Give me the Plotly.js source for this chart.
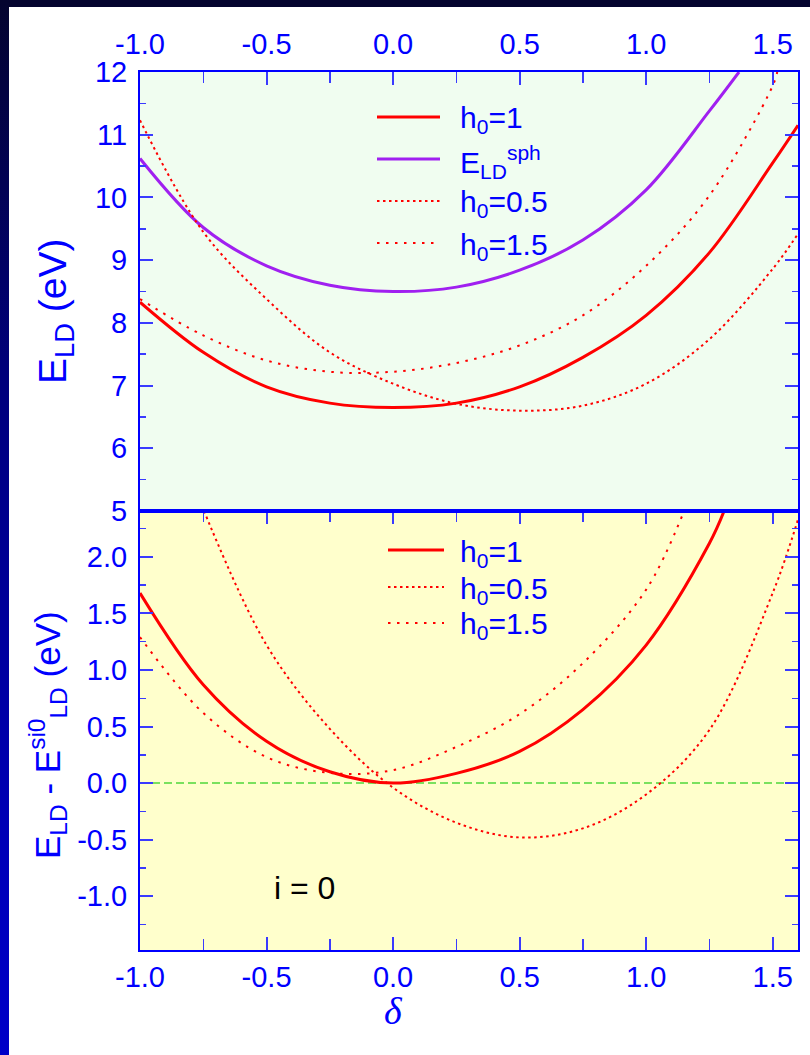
<!DOCTYPE html>
<html>
<head>
<meta charset="utf-8">
<script src="https://cdn.plot.ly/plotly-3.0.1.min.js"></script>
<style>
html,body{margin:0;padding:0;background:#fff;}
#wrap{position:relative;width:810px;height:1055px;overflow:hidden;background:#fff;}
#topband{position:absolute;left:0;top:0;width:810px;height:7px;background:#04042f;}
#leftband{position:absolute;left:0;top:0;width:9px;height:1055px;background:linear-gradient(#04042f,#00007a 35%,#0000b8 80%,#0000c8);}
#plot{position:absolute;left:0;top:0;width:810px;height:1055px;}
</style>
</head>
<body>
<div id="wrap"><div id="topband"></div><div id="leftband"></div><div id="plot"></div></div>
<script>
// ---------- data ----------
// Upper panel: E_LD (eV) vs delta
const deltaTop   = [-1, -0.75, -0.5, -0.25, 0, 0.25, 0.5, 0.75, 1.0, 1.25, 1.5, 1.6];
const eLD_h1     = [8.33, 7.53, 6.98, 6.72, 6.65, 6.72, 6.98, 7.45, 8.12, 9.12, 10.55, 11.15];
const eLD_h05    = [11.23, 9.45, 8.38, 7.53, 7.03, 6.71, 6.60, 6.68, 7.03, 7.74, 8.86, 9.42];
const deltaSph   = [-1, -0.75, -0.5, -0.25, 0, 0.25, 0.5, 0.75, 1.0, 1.25, 1.367];
const eLD_sph    = [10.62, 9.52, 8.91, 8.60, 8.50, 8.57, 8.84, 9.32, 10.12, 11.38, 12.0];
const deltaH15T  = [-1, -0.75, -0.5, -0.25, 0, 0.25, 0.5, 0.75, 1.0, 1.25, 1.5, 1.518];
const eLD_h15    = [8.38, 7.80, 7.40, 7.22, 7.22, 7.36, 7.64, 8.12, 8.91, 10.03, 11.78, 12.0];

// Lower panel: E_LD - E_LD^si0 (eV) vs delta
const deltaH1B   = [-1, -0.75, -0.5, -0.25, 0, 0.25, 0.5, 0.75, 1.0, 1.25, 1.308];
const dE_h1      = [1.68, 0.87, 0.37, 0.10, 0, 0.086, 0.28, 0.65, 1.22, 2.12, 2.405];
const deltaH05B  = [-0.747, -0.5, -0.25, 0, 0.25, 0.5, 0.75, 1.0, 1.25, 1.5, 1.6];
const dE_h05     = [2.405, 1.22, 0.48, -0.04, -0.35, -0.48, -0.40, -0.10, 0.47, 1.68, 2.33];
const deltaH15B  = [-1, -0.75, -0.5, -0.25, 0, 0.25, 0.5, 0.75, 1.0, 1.15];
const dE_h15     = [1.29, 0.62, 0.23, 0.09, 0.115, 0.32, 0.61, 1.06, 1.71, 2.405];

// tick labels
const xTickVals = [-1, -0.5, 0, 0.5, 1, 1.5];
const xTickText = ['-1.0', '-0.5', '0.0', '0.5', '1.0', '1.5'];
const yTopVals  = [5, 6, 7, 8, 9, 10, 11, 12];
const yTopText  = ['5', '6', '7', '8', '9', '10', '11', '12'];
const yBotVals  = [-1, -0.5, 0, 0.5, 1, 1.5, 2];
const yBotText  = ['-1.0', '-0.5', '0.0', '0.5', '1.0', '1.5', '2.0'];

const legendTop = ['h<sub>0</sub>=1', 'E<sub>LD</sub><sup>sph</sup>', 'h<sub>0</sub>=0.5', 'h<sub>0</sub>=1.5'];
const legendBot = ['h<sub>0</sub>=1', 'h<sub>0</sub>=0.5', 'h<sub>0</sub>=1.5'];

// ---------- styling ----------
const BLUE = '#0000ff', TICKC = '#3a3aff', RED = '#ff0000', PURPLE = '#a020f0';
const FONT = 'Liberation Sans, Arial, Helvetica, sans-serif';
const DENSE = '2.5px,3.5px', SPARSE = '2.5px,6.5px';
const L = 140, R = 798, T = 72, B = 950;
const px = p => (p - L) / (R - L);
const py = p => (B - p) / (B - T);

function line(x, y, xa, ya, color, width, dash) {
  return {x: x, y: y, xaxis: xa, yaxis: ya, type: 'scatter', mode: 'lines',
    line: {color: color, width: width, dash: dash || 'solid', shape: 'spline', smoothing: 1},
    hoverinfo: 'skip', showlegend: false, cliponaxis: true};
}

const traces = [
  line(deltaSph, eLD_sph, 'x2', 'y', PURPLE, 3),
  line(deltaTop, eLD_h05, 'x2', 'y', RED, 2, DENSE),
  line(deltaH15T, eLD_h15, 'x2', 'y', RED, 2, SPARSE),
  line(deltaTop, eLD_h1, 'x2', 'y', RED, 3),
  line(deltaH05B, dE_h05, 'x', 'y2', RED, 2, DENSE),
  line(deltaH15B, dE_h15, 'x', 'y2', RED, 2, SPARSE),
  line(deltaH1B, dE_h1, 'x', 'y2', RED, 3)
];

const tickFont = {family: FONT, size: 29, color: BLUE};
const xCommon = {
  range: [-1, 1.6], tickvals: xTickVals, ticktext: xTickText,
  ticks: 'inside', ticklen: 13, tickwidth: 2, tickcolor: TICKC,
  minor: {tick0: -1, dtick: 0.25, ticks: 'inside', ticklen: 11, tickwidth: 1.5, tickcolor: TICKC, showgrid: false},
  showline: true, linecolor: BLUE, linewidth: 2, showgrid: false, zeroline: false,
  tickfont: tickFont
};

const layout = {
  width: 810, height: 1055,
  margin: {l: L, r: 810 - R, t: T, b: 1055 - B},
  paper_bgcolor: 'rgba(0,0,0,0)', plot_bgcolor: 'rgba(0,0,0,0)',
  showlegend: false,
  xaxis: Object.assign({}, xCommon, {anchor: 'y2', domain: [0, 1], side: 'bottom', mirror: 'allticks', ticklabelstandoff: 0}),
  xaxis2: Object.assign({}, xCommon, {anchor: 'y', matches: 'x', side: 'top', mirror: true, ticklabelstandoff: 4}),
  yaxis: {
    domain: [0.5, 1], anchor: 'x2', range: [5, 12], tickvals: yTopVals, ticktext: yTopText,
    ticks: 'inside', ticklen: 13, tickwidth: 2, tickcolor: TICKC,
    minor: {tick0: 5, dtick: 0.5, ticks: 'inside', ticklen: 6, tickwidth: 1.5, tickcolor: TICKC, showgrid: false},
    showline: true, linecolor: BLUE, linewidth: 2, mirror: 'allticks', showgrid: false, zeroline: false,
    tickfont: tickFont, ticklabelstandoff: 5
  },
  yaxis2: {
    domain: [0, 0.5], anchor: 'x', range: [-1.475, 2.405], tickvals: yBotVals, ticktext: yBotText,
    ticks: 'inside', ticklen: 13, tickwidth: 2, tickcolor: TICKC,
    minor: {tick0: 0, dtick: 0.25, ticks: 'inside', ticklen: 6, tickwidth: 1.5, tickcolor: TICKC, showgrid: false},
    showline: true, linecolor: BLUE, linewidth: 2, mirror: 'allticks', showgrid: false, zeroline: false,
    tickfont: tickFont, ticklabelstandoff: 5
  },
  shapes: [
    {type: 'rect', xref: 'x2 domain', yref: 'y domain', x0: 0, x1: 1, y0: 0, y1: 1,
     fillcolor: '#f0fdf0', line: {width: 0}, layer: 'below'},
    {type: 'rect', xref: 'x domain', yref: 'y2 domain', x0: 0, x1: 1, y0: 0, y1: 1,
     fillcolor: '#ffffcc', line: {width: 0}, layer: 'below'},
    {type: 'line', xref: 'x domain', yref: 'y2', x0: 0, x1: 1, y0: 0, y1: 0,
     line: {color: '#4fd83a', width: 1.5, dash: '8px,4px'}, layer: 'below'}
  ],
  annotations: []
};

// legend samples (upper panel)
const topRows = [117, 159, 201, 243];
const topStyles = [[RED, 3, 'solid'], [PURPLE, 3, 'solid'], [RED, 2, DENSE], [RED, 2, SPARSE]];
topRows.forEach((yy, i) => {
  layout.shapes.push({type: 'line', xref: 'paper', yref: 'paper', x0: px(377), x1: px(440), y0: py(yy), y1: py(yy),
    line: {color: topStyles[i][0], width: topStyles[i][1], dash: topStyles[i][2]}});
  layout.annotations.push({xref: 'paper', yref: 'paper', x: px(458), y: py(yy + 3), xanchor: 'left', yanchor: 'middle',
    text: legendTop[i], showarrow: false, font: {family: FONT, size: 30, color: BLUE}});
});
// legend samples (lower panel)
const botRows = [550, 587, 623];
const botStyles = [[RED, 3, 'solid'], [RED, 2, DENSE], [RED, 2, SPARSE]];
botRows.forEach((yy, i) => {
  layout.shapes.push({type: 'line', xref: 'paper', yref: 'paper', x0: px(388), x1: px(444), y0: py(yy), y1: py(yy),
    line: {color: botStyles[i][0], width: botStyles[i][1], dash: botStyles[i][2]}});
  layout.annotations.push({xref: 'paper', yref: 'paper', x: px(458), y: py(yy + 3), xanchor: 'left', yanchor: 'middle',
    text: legendBot[i], showarrow: false, font: {family: FONT, size: 30, color: BLUE}});
});

// axis titles
layout.annotations.push(
  {xref: 'paper', yref: 'paper', x: px(56), y: py(312), xanchor: 'center', yanchor: 'middle', textangle: -90,
   text: 'E<sub>LD</sub> (eV)', showarrow: false, font: {family: FONT, size: 39, color: BLUE}},
  {xref: 'paper', yref: 'paper', x: px(47), y: py(735), xanchor: 'center', yanchor: 'middle', textangle: -90,
   text: 'E<sub>LD</sub> - E<sup>si0</sup><sub>LD</sub> (eV)', showarrow: false, font: {family: FONT, size: 35, color: BLUE}},
  {xref: 'x', yref: 'paper', x: 0, y: py(1011), xanchor: 'center', yanchor: 'middle',
   text: '<i>δ</i>', showarrow: false, font: {family: 'Liberation Serif, Times New Roman, serif', size: 38, color: BLUE}},
  {xref: 'x', yref: 'y2', x: -0.35, y: -0.93, xanchor: 'center', yanchor: 'middle',
   text: 'i = 0', showarrow: false, font: {family: FONT, size: 32, color: '#000000'}}
);

Plotly.newPlot('plot', traces, layout, {staticPlot: true, displayModeBar: false});
</script>
</body>
</html>
